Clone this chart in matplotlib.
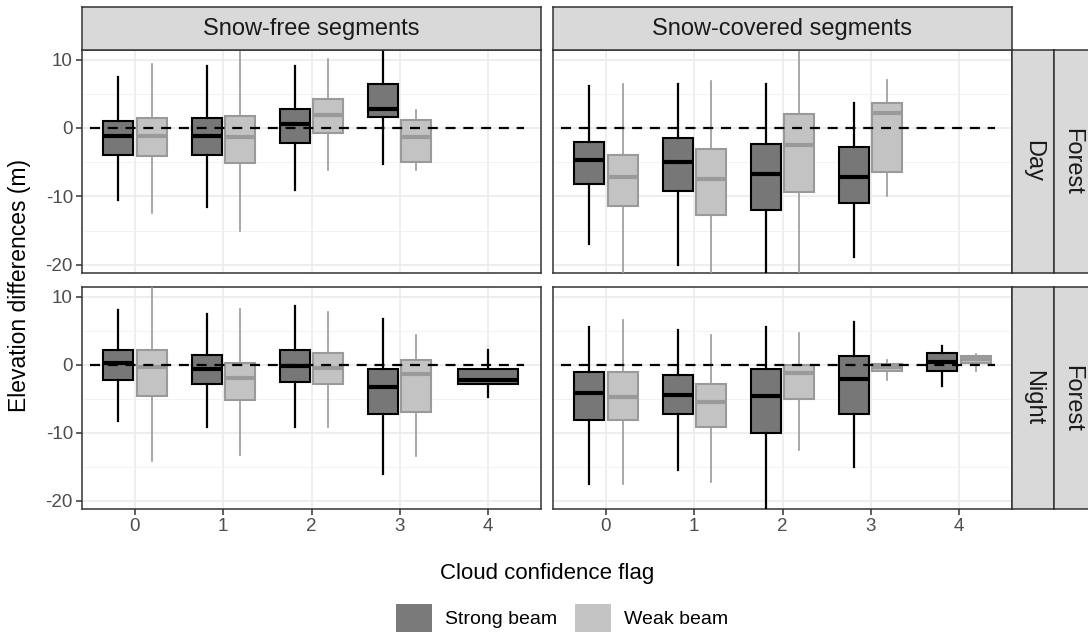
import numpy as np
import matplotlib.pyplot as plt
from matplotlib.patches import Patch

plt.rcParams['font.family'] = ['Liberation Sans', 'DejaVu Sans']

# cloud confidence flags on the x axis
flags = [0, 1, 2, 3, 4]
rows = ["Day", "Night"]
cols = ["Snow-free segments", "Snow-covered segments"]
land = "Forest"

# five-number summaries per flag: (whisker low, q1, median, q3, whisker high)
free_day_strong = [(-10.6, -3.9, -1.2, 1.0, 7.5), (-11.6, -3.9, -1.1, 1.4, 9.0),
                   (-9.1, -2.2, 0.6, 2.8, 9.0), (-5.3, 1.6, 2.8, 6.4, 13.0), None]
free_day_weak = [(-12.4, -4.1, -1.1, 1.5, 9.3), (-15.0, -5.1, -1.3, 1.8, 13.0),
                 (-6.2, -0.7, 1.9, 4.2, 10.1), (-6.1, -4.9, -1.3, 1.1, 2.6), None]
cov_day_strong = [(-16.9, -8.2, -4.7, -2.1, 6.1), (-20.0, -9.2, -5.0, -1.5, 6.5),
                  (-26.0, -12.0, -6.8, -2.3, 6.5), (-18.8, -11.0, -7.1, -2.8, 3.7), None]
cov_day_weak = [(-26.0, -11.4, -7.2, -3.9, 6.5), (-26.0, -12.7, -7.5, -3.0, 6.8),
                (-26.0, -9.3, -2.5, 2.1, 13.0), (-10.0, -6.5, 2.2, 3.7, 7.0), None]
free_night_strong = [(-8.3, -2.2, 0.2, 2.1, 8.0), (-9.1, -2.8, -0.6, 1.4, 7.5),
                     (-9.2, -2.6, -0.2, 2.1, 8.6), (-16.1, -7.3, -3.3, -0.6, 6.7),
                     (-4.8, -2.9, -2.3, -0.6, 2.2)]
free_night_weak = [(-14.1, -4.6, -0.4, 2.1, 13.0), (-13.3, -5.2, -1.9, 0.3, 8.2),
                   (-9.2, -2.8, -0.5, 1.7, 7.8), (-13.4, -7.0, -1.4, 0.7, 4.4), None]
cov_night_strong = [(-17.6, -8.2, -4.1, -1.1, 5.5), (-15.4, -7.3, -4.5, -1.5, 5.1),
                    (-26.0, -10.0, -4.6, -0.6, 5.5), (-15.0, -7.3, -2.1, 1.3, 6.2),
                    (-3.1, -1.0, 0.45, 1.7, 2.7)]
cov_night_weak = [(-17.6, -8.1, -4.8, -1.1, 6.5), (-17.3, -9.2, -5.5, -2.9, 4.4),
                  (-12.5, -5.0, -1.3, 0.0, 4.7), (-2.2, -0.9, -0.4, 0.1, 0.7),
                  (-0.9, 0.25, 0.8, 1.3, 1.6)]

panels = {(0, 0): (free_day_strong, free_day_weak),
          (0, 1): (cov_day_strong, cov_day_weak),
          (1, 0): (free_night_strong, free_night_weak),
          (1, 1): (cov_night_strong, cov_night_weak)}

strong_fill, weak_fill = "#777777", "#c3c3c3"
strong_line, weak_line = "#000000", "#9a9a9a"
border = "#333333"
strip_fill = "#d9d9d9"

W, H = 1088, 632
fig = plt.figure(figsize=(W / 100, H / 100), dpi=100)


def px_axes(x0, y0, x1, y1):
    return fig.add_axes([x0 / W, 1 - y1 / H, (x1 - x0) / W, (y1 - y0) / H])


def strip(x0, y0, x1, y1, text, rot):
    s = px_axes(x0, y0, x1, y1)
    s.set_facecolor(strip_fill)
    s.set_xticks([])
    s.set_yticks([])
    for sp in s.spines.values():
        sp.set_color(border)
        sp.set_linewidth(1.1)
    s.text(0.5, 0.5, text, transform=s.transAxes, ha='center', va='center',
           rotation=rot, fontsize=17, color='#1a1a1a')
    return s


def draw_boxes(ax, data, offset, width, fill, line, lw):
    stats, pos = [], []
    for k, d in zip(flags, data):
        if d is None:
            continue
        stats.append(dict(whislo=d[0], q1=d[1], med=d[2], q3=d[3], whishi=d[4], fliers=[]))
        pos.append(k + offset)
    ax.bxp(stats, positions=pos, widths=width, patch_artist=True, showcaps=False,
           showfliers=False,
           boxprops=dict(facecolor=fill, edgecolor=line, linewidth=1.5),
           medianprops=dict(color=line, linewidth=3.0, solid_capstyle='butt'),
           whiskerprops=dict(color=line, linewidth=lw),
           zorder=3)


xs = [(82, 541), (553, 1012)]
ys = [(50, 273), (287, 509)]

for (r, c), (strong, weak) in panels.items():
    x0, x1 = xs[c]
    y0, y1 = ys[r]
    ax = px_axes(x0, y0, x1, y1)
    # split groups where both beams exist, single box otherwise
    both_s, both_w, single_s, single_w = [], [], [], []
    for s_, w_ in zip(strong, weak):
        if s_ is not None and w_ is not None:
            both_s.append(s_); both_w.append(w_); single_s.append(None); single_w.append(None)
        else:
            both_s.append(None); both_w.append(None); single_s.append(s_); single_w.append(w_)
    draw_boxes(ax, both_s, -0.1875, 0.34, strong_fill, strong_line, 1.6)
    draw_boxes(ax, both_w, 0.1875, 0.34, weak_fill, weak_line, 1.2)
    if any(v is not None for v in single_s):
        draw_boxes(ax, single_s, 0.0, 0.69, strong_fill, strong_line, 1.6)
    if any(v is not None for v in single_w):
        draw_boxes(ax, single_w, 0.0, 0.69, weak_fill, weak_line, 1.2)

    ax.axhline(0, xmin=0.018, xmax=0.962, color='black', lw=1.6,
               linestyle=(0, (4.5, 3.5)), zorder=5)

    ax.set_xlim(-0.6, 4.6)
    ax.set_ylim(-21.2, 11.4)
    ax.set_xticks(flags)
    ax.set_yticks([-20, -10, 0, 10])
    ax.set_yticks([-15, -5, 5], minor=True)
    ax.set_xticks([], minor=True)
    ax.grid(which='major', color='#ebebeb', linewidth=1.2)
    ax.grid(which='minor', axis='y', color='#f2f2f2', linewidth=0.7)
    ax.set_axisbelow(True)
    for sp in ax.spines.values():
        sp.set_color(border)
        sp.set_linewidth(1.1)
    ax.tick_params(which='major', length=4.5, width=1.1, color=border,
                   labelcolor='#4d4d4d', labelsize=13.5, pad=2)
    ax.tick_params(which='minor', length=0)
    if r == 0:
        ax.tick_params(axis='x', length=0, labelbottom=False)
    else:
        ax.set_xticklabels([str(f) for f in flags])
    if c == 1:
        ax.tick_params(axis='y', length=0, labelleft=False)
    else:
        ax.set_yticklabels(['-20', '-10', '0', '10'])

    if r == 0:
        strip(x0, 7, x1, 50, cols[c], 0)
    if c == 1:
        strip(1012, y0, 1054, y1, rows[r], -90)
        strip(1054, y0, 1090, y1, land, -90)

fig.text(20 / W, 1 - 285 / H, "Elevation differences (m)", rotation=90,
         ha='center', va='center', fontsize=16.5)
fig.text(547 / W, 1 - 574 / H, "Cloud confidence flag", ha='center', va='center',
         fontsize=16)

handles = [Patch(facecolor="#7a7a7a", edgecolor='none'),
           Patch(facecolor="#c4c4c4", edgecolor='none')]
fig.legend(handles, ["Strong beam", "Weak beam"], loc='lower center',
           bbox_to_anchor=(562 / W, 0.0), ncol=2, frameon=False, fontsize=14,
           handlelength=1.85, handleheight=1.85, handletextpad=0.7,
           columnspacing=0.9, borderpad=0, borderaxespad=0)

fig.savefig("out.png", dpi=100)
